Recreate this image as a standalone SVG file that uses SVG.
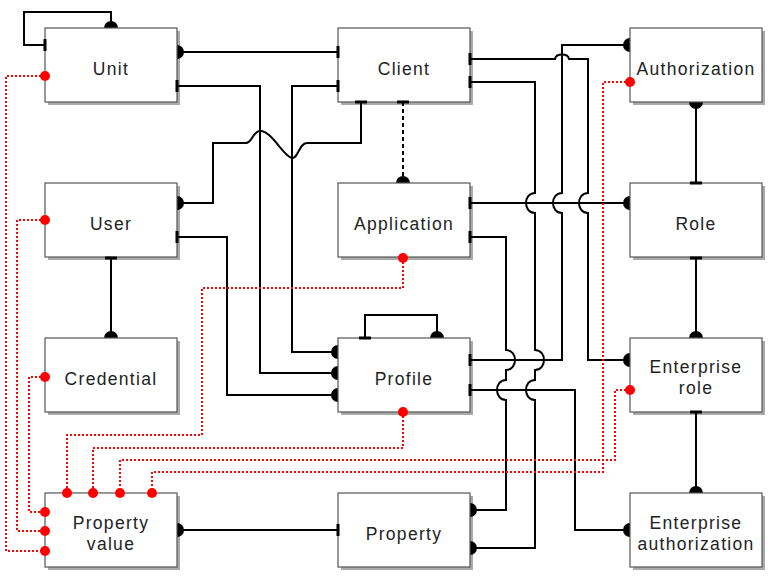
<svg xmlns="http://www.w3.org/2000/svg" width="772" height="581" viewBox="0 0 772 581">
<style>
.c{fill:none;stroke:#000;stroke-width:2}
.d{fill:none;stroke:#000;stroke-width:2;stroke-dasharray:4 3}
.r{fill:none;stroke:#f00;stroke-width:2;stroke-dasharray:2 2}
.bar{stroke:#000;stroke-width:3}
.dot{fill:#000}
.rd{fill:#f00}
.box{fill:#fff;stroke:#555;stroke-width:1.2}
.sh{fill:#aaa}
text{font-family:"Liberation Sans",Arial,sans-serif;font-size:17.5px;letter-spacing:1.3px;fill:#222;text-anchor:middle}
</style>
<rect width="772" height="581" fill="#fff"/>
<g id="shadows" class="sh">
<rect x="48" y="31" width="132" height="74"/><rect x="341" y="31" width="132" height="74"/><rect x="633" y="31" width="132" height="74"/>
<rect x="48" y="186" width="132" height="74"/><rect x="341" y="186" width="132" height="74"/><rect x="633" y="186" width="132" height="74"/>
<rect x="48" y="341" width="132" height="74"/><rect x="341" y="341" width="132" height="74"/><rect x="633" y="341" width="132" height="74"/>
<rect x="48" y="496" width="132" height="74"/><rect x="341" y="496" width="132" height="74"/><rect x="633" y="496" width="132" height="74"/>
</g>
<g id="connectors">
<path class="c" d="M45,45 H24 V12 H111 V28"/>
<path class="c" d="M177,52 H338"/>
<path class="c" d="M177,86 H260 V373 H338"/>
<path class="c" d="M338,86 H292 V352 H338"/>
<path class="c" d="M177,237 H227 V395 H338"/>
<path class="c" d="M361,102 V143 H307 C299,143 298,159 292,158 C284,157 271,130 260,131 C253,131 252,143 246,143 H213 V203 H177"/>
<path class="d" d="M403,102 V183"/>
<path class="c" d="M630,45 H562 V193 C550,193 550,213 562,213 V360 H470"/>
<path class="c" d="M470,59 H555 C556,53 568,53 569,59 H588 V193 C576,193 576,213 588,213 V360 H630"/>
<path class="c" d="M470,82 H535 V193 C523,193 523,213 535,213 V350 C547,350 547,370 535,370 V380 C523,380 523,400 535,400 V548 H470"/>
<path class="c" d="M470,237 H506 V350 C518,350 518,370 506,370 V380 C494,380 494,400 506,400 V510 H470"/>
<path class="c" d="M470,390 H575 V530 H630"/>
<path class="c" d="M470,203 H630"/>
<path class="c" d="M365,338 V315 H437 V338"/>
<path class="c" d="M696,102 V183"/>
<path class="c" d="M696,258 V338"/>
<path class="c" d="M696,412 V493"/>
<path class="c" d="M111,258 V338"/>
<path class="c" d="M177,530 H338"/>
<path class="r" d="M45,76 H6 V551 H45"/>
<path class="r" d="M45,220 H17 V531 H45"/>
<path class="r" d="M45,377 H29 V512 H45"/>
<path class="r" d="M403,258 V288 H202 V435 H67 V493"/>
<path class="r" d="M403,412 V448 H93 V493"/>
<path class="r" d="M630,390 H615 V460 H120 V493"/>
<path class="r" d="M630,82 H603 V472 H152 V493"/>
<g class="dot">
<circle cx="111" cy="28" r="7"/><circle cx="177" cy="52" r="7"/><circle cx="338" cy="373" r="7"/>
<circle cx="338" cy="352" r="7"/><circle cx="338" cy="395" r="7"/><circle cx="177" cy="203" r="7"/>
<circle cx="403" cy="183" r="7"/><circle cx="630" cy="45" r="7"/><circle cx="630" cy="360" r="7"/>
<circle cx="470" cy="548" r="7"/><circle cx="470" cy="510" r="7"/><circle cx="630" cy="530" r="7"/>
<circle cx="630" cy="203" r="7"/><circle cx="437" cy="338" r="7"/><circle cx="696" cy="102" r="7"/>
<circle cx="696" cy="338" r="7"/><circle cx="696" cy="493" r="7"/><circle cx="111" cy="338" r="7"/>
<circle cx="177" cy="530" r="7"/>
</g>
</g>
<g id="unit"><rect class="box" x="45" y="28" width="132" height="74"/><text x="111" y="75">Unit</text></g>
<g id="client"><rect class="box" x="338" y="28" width="132" height="74"/><text x="404" y="75">Client</text></g>
<g id="authorization"><rect class="box" x="630" y="28" width="132" height="74"/><text x="696" y="75">Authorization</text></g>
<g id="user"><rect class="box" x="45" y="183" width="132" height="74"/><text x="111" y="230">User</text></g>
<g id="application"><rect class="box" x="338" y="183" width="132" height="74"/><text x="404" y="230">Application</text></g>
<g id="role"><rect class="box" x="630" y="183" width="132" height="74"/><text x="696" y="230">Role</text></g>
<g id="credential"><rect class="box" x="45" y="338" width="132" height="74"/><text x="111" y="385">Credential</text></g>
<g id="profile"><rect class="box" x="338" y="338" width="132" height="74"/><text x="404" y="385">Profile</text></g>
<g id="enterprise-role"><rect class="box" x="630" y="338" width="132" height="74"/><text x="696" y="373">Enterprise</text><text x="696" y="394">role</text></g>
<g id="property-value"><rect class="box" x="45" y="493" width="132" height="74"/><text x="111" y="529">Property</text><text x="111" y="550">value</text></g>
<g id="property"><rect class="box" x="338" y="493" width="132" height="74"/><text x="404" y="540">Property</text></g>
<g id="enterprise-authorization"><rect class="box" x="630" y="493" width="132" height="74"/><text x="696" y="529">Enterprise</text><text x="696" y="550">authorization</text></g>
<g id="ends">
<path class="bar" d="M45,39 V51 M338,46 V58 M177,80 V92 M338,80 V92 M177,231 V243 M355,102 H367 M397,102 H409 M470,53 V65 M470,76 V88 M470,197 V209 M470,231 V243 M470,354 V366 M470,384 V396 M359,338 H371 M690,183 H702 M690,258 H702 M690,412 H702 M105,258 H117 M338,524 V536"/>
<g class="rd">
<circle cx="45" cy="76" r="5"/><circle cx="45" cy="220" r="5"/><circle cx="45" cy="377" r="5"/>
<circle cx="45" cy="551" r="5"/><circle cx="45" cy="531" r="5"/><circle cx="45" cy="512" r="5"/>
<circle cx="67" cy="493" r="5"/><circle cx="93" cy="493" r="5"/><circle cx="120" cy="493" r="5"/><circle cx="152" cy="493" r="5"/>
<circle cx="403" cy="258" r="5"/><circle cx="403" cy="412" r="5"/><circle cx="630" cy="390" r="5"/><circle cx="630" cy="82" r="5"/>
</g>
</g>
</svg>
